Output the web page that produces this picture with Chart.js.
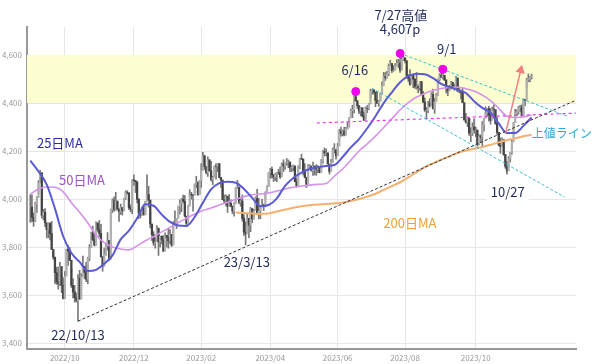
<!DOCTYPE html>
<html>
<head>
<meta charset="utf-8">
<script src="https://cdn.jsdelivr.net/npm/chart.js@4.4.0/dist/chart.umd.min.js"></script>
<style>
html,body{margin:0;padding:0;background:#fff;}
#wrap{width:600px;height:364px;}
</style>
</head>
<body>
<div id="wrap"><canvas id="myChart" width="600" height="364"></canvas></div>
<script>
// trading day index 0 = 2022/09/01
var closes = [
 // 2022/09
 3967,3924,3909,3980,4006,4067,4110,3932,3946,3901,3873,3900,3856,3790,3758,3693,3655,3647,3719,3640,3586,
 // 2022/10
 3678,3791,3783,3745,3640,3613,3589,3577,3670,3583,3677,3720,3695,3666,3753,3797,3859,3831,3808,3901,3872,
 // 2022/11
 3856,3760,3720,3771,3807,3828,3749,3956,3993,3957,3992,3959,3947,3965,3950,4003,4027,4026,3964,3958,4080,
 // 2022/12
 4077,4072,3999,3941,3933,3964,3934,3991,4019,3996,3896,3852,3817,3821,3879,3822,3845,3829,3783,3849,3840,
 // 2023/01
 3825,3853,3808,3895,3893,3919,3970,3983,3999,3991,3929,3898,3973,4020,4017,4016,4060,4071,4018,4077,
 // 2023/02
 4119,4180,4136,4111,4164,4118,4082,4090,4137,4136,4148,4090,4079,3998,3991,4012,3970,3982,3970,
 // 2023/03
 3951,3981,4046,4048,3986,3992,3919,3862,3855,3920,3892,3960,3917,3951,4002,3937,3949,3971,3977,3971,4027,4051,4109,
 // 2023/04
 4124,4101,4091,4105,4110,4109,4092,4146,4138,4152,4154,4155,4130,4133,4138,4072,4056,4135,4169,
 // 2023/05
 4167,4119,4091,4061,4136,4138,4119,4138,4131,4124,4136,4110,4159,4198,4192,4193,4146,4115,4151,4205,4206,4180,
 // 2023/06
 4221,4282,4273,4283,4268,4293,4299,4338,4369,4373,4426,4410,4389,4366,4381,4348,4328,4378,4377,4396,4450,
 // 2023/07
 4456,4447,4411,4399,4409,4439,4472,4510,4505,4522,4555,4565,4535,4536,4555,4567,4567,4537,4582,4589,
 // 2023/08
 4577,4513,4502,4478,4518,4499,4468,4469,4464,4490,4437,4404,4370,4370,4400,4388,4436,4376,4406,4433,4497,4515,4508,
 // 2023/09
 4516,4497,4465,4451,4457,4487,4462,4467,4505,4450,4453,4444,4402,4330,4320,4337,4274,4274,4300,4288,
 // 2023/10
 4288,4229,4263,4258,4308,4336,4358,4377,4350,4328,4374,4373,4315,4278,4224,4218,4248,4186,4137,4117,4167,4194,
 // 2023/11
 4238,4318,4358,4365,4379,4383,4347,4415,4411,4496,4502,4508,4514
];
var highs = [
 4018,4018,3942,3987,4010,4077,4120,4062,3957,3960,3880,3901,3880,3907,3780,3727,3716,3717,3736,3687,3672,
 3698,3791,3807,3798,3711,3667,3640,3608,3685,3703,3689,3762,3719,3737,3757,3810,3862,3887,3860,3905,3893,
 3911,3895,3750,3796,3814,3860,3813,3958,4001,4009,4028,3983,3954,3979,3962,4004,4034,4035,4012,3976,4080,
 4101,4077,4052,4002,3951,3966,3977,3991,4101,4053,3946,3874,3864,3839,3889,3872,3846,3846,3848,3859,3840,
 3878,3873,3839,3906,3951,3919,3970,3997,4003,4016,4015,3922,3973,4039,4028,4019,4063,4095,4063,4077,
 4148,4195,4183,4124,4176,4158,4157,4095,4138,4148,4148,4136,4082,4051,4017,4018,3979,4019,3997,
 3971,3985,4048,4078,4051,4000,4017,3934,3905,3937,3894,3965,3958,3957,4009,4040,4003,3973,3999,3979,4030,4055,4110,
 4128,4133,4103,4108,4110,4124,4134,4151,4164,4152,4169,4163,4148,4139,4142,4127,4088,4139,4170,
 4187,4164,4148,4083,4144,4143,4131,4154,4133,4143,4139,4135,4165,4203,4213,4209,4186,4131,4166,4213,4231,4195,
 4232,4290,4300,4288,4299,4299,4322,4340,4375,4391,4431,4448,4401,4388,4382,4366,4362,4384,4390,4398,4458,
 4456,4454,4423,4449,4412,4442,4489,4528,4527,4532,4563,4578,4565,4556,4565,4580,4582,4607,4590,4595,
 4584,4550,4519,4540,4519,4504,4502,4527,4476,4490,4476,4449,4421,4382,4407,4418,4443,4458,4418,4440,4501,4522,4532,
 4541,4514,4490,4458,4474,4491,4479,4479,4511,4498,4466,4449,4462,4375,4357,4339,4314,4297,4318,4334,
 4300,4282,4268,4268,4324,4337,4385,4378,4386,4377,4383,4393,4367,4340,4276,4255,4255,4231,4183,4157,4177,4195,
 4245,4319,4374,4372,4386,4391,4393,4418,4414,4503,4521,4511,4521
];
var lows = [
 3903,3906,3886,3906,3944,4023,4084,3921,3913,3885,3838,3838,3830,3789,3749,3647,3644,3624,3640,3610,3584,
 3585,3722,3723,3744,3631,3588,3570,3571,3491,3582,3638,3687,3667,3656,3647,3743,3800,3825,3804,3808,3863,
 3843,3758,3699,3721,3766,3786,3745,3859,3944,3949,3953,3954,3907,3936,3933,3956,3998,4020,3956,3946,3938,
 4057,4027,3984,3918,3922,3933,3933,3936,3993,3966,3880,3827,3807,3795,3828,3765,3800,3813,3781,3801,3800,
 3795,3815,3802,3809,3890,3877,3925,3937,3947,3984,3926,3885,3907,3971,3999,3949,4017,4048,4015,4021,
 4049,4137,4123,4105,4094,4115,4074,4060,4092,4083,4114,4089,4048,3997,3982,3971,3944,3977,3968,
 3939,3929,3991,4044,3980,3970,3908,3847,3809,3873,3839,3864,3901,3916,3971,3936,3917,3918,3969,3952,3999,4032,4057,
 4087,4087,4073,4077,4072,4102,4086,4100,4114,4123,4140,4130,4114,4114,4118,4072,4049,4080,4127,
 4164,4101,4088,4048,4099,4123,4116,4098,4100,4099,4110,4109,4113,4150,4180,4180,4146,4104,4117,4154,4192,4166,
 4181,4241,4262,4263,4263,4266,4292,4305,4349,4339,4359,4407,4377,4356,4346,4341,4328,4336,4360,4372,4422,
 4437,4437,4385,4399,4386,4408,4464,4485,4494,4504,4514,4558,4527,4532,4546,4555,4547,4528,4556,4577,
 4567,4505,4490,4474,4492,4464,4461,4458,4443,4453,4432,4403,4365,4335,4360,4383,4402,4376,4357,4416,4432,4493,4507,
 4501,4493,4442,4431,4452,4467,4461,4453,4479,4447,4442,4417,4402,4329,4316,4302,4265,4239,4265,4275,
 4260,4220,4226,4236,4219,4283,4339,4345,4325,4312,4342,4337,4311,4269,4223,4190,4220,4182,4128,4104,4132,4154,
 4187,4269,4334,4347,4353,4365,4344,4353,4389,4465,4489,4488,4500
];

// moving averages, every 5 trading days
var maDays = [0,5,10,15,20,25,30,35,40,45,50,55,60,65,70,75,80,85,90,95,100,105,110,115,120,125,130,135,140,145,150,155,160,165,170,175,180,185,190,195,200,205,210,215,220,225,230,235,240,245,250,255,260,265,270,275,280,285,290,295,300,305];
var ma25 = [4160,4115,4060,3960,3845,3775,3738,3700,3705,3730,3765,3832,3868,3920,3978,3972,3935,3905,3890,3888,3925,3985,4040,4066,4072,4068,4042,4005,3970,3975,4003,4055,4088,4110,4125,4133,4138,4142,4175,4215,4250,4295,4345,4400,4445,4487,4512,4522,4520,4504,4480,4467,4455,4442,4408,4380,4360,4315,4275,4275,4305,4340];
var ma50 = [4020,4042,4050,4049,4030,3985,3945,3900,3850,3818,3800,3792,3788,3805,3826,3843,3863,3882,3902,3920,3938,3952,3963,3975,3987,3998,4010,4018,4021,4025,4033,4042,4049,4054,4058,4061,4065,4095,4125,4162,4200,4230,4262,4298,4335,4372,4402,4425,4440,4452,4461,4465,4466,4460,4450,4433,4410,4378,4345,4340,4342,4350];
var ma200 = [null,null,null,null,null,null,null,null,null,null,null,null,null,null,null,null,null,null,null,null,null,null,null,null,null,
 3944,3942,3940,3938,3940,3948,3956,3964,3970,3974,3977,3979,3982,3986,3992,4000,4010,4022,4038,4054,4070,4090,4112,4133,4149,4164,4178,4192,4202,4210,4217,4226,4236,4245,4253,4262,4268];

// trend lines (trading day, price)
var supportLine = [[29,3491],[332,4412]];
var upperChannel = [[225,4607],[326.4,4346]];
var lowerChannel = [[207.8,4462],[325.1,4008]];
var resistLine = [[174.3,4317],[332,4358]];
var arrowLine = [[289.2,4275],[298.4,4537]];

var peakDays = [198,225,251];
var peakValues = [4448,4607,4541];

var tickDays = [21,63,104,146,187,228,271];
var tickLabels = ['2022/10','2022/12','2023/02','2023/04','2023/06','2023/08','2023/10'];
var yTicks = [3400,3600,3800,4000,4200,4400,4600];

var notes = [
    {text:'7/27高値', x:225.4, y:4767, color:'#1f2a5a'},
    {text:'4,607p', x:225, y:4708, color:'#1f2a5a'},
    {text:'6/16', x:197.4, y:4537, color:'#1f2a5a'},
    {text:'9/1', x:253.4, y:4625, color:'#1f2a5a'},
    {text:'25日MA', x:18, y:4233, color:'#2a2aa8'},
    {text:'50日MA', x:31.4, y:4079, color:'#a050c8'},
    {text:'200日MA', x:230.9, y:3900, color:'#f0a030'},
    {text:'上値ライン', x:323.3, y:4275, color:'#30a8d8', size:12},
    {text:'10/27', x:290.5, y:4029, color:'#1f2a5a', bg:true},
    {text:'22/10/13', x:29, y:3433, color:'#1f2a5a'},
    {text:'23/3/13', x:131.7, y:3737, color:'#1f2a5a'}
];

function pts(arr) {
    return arr.map(function(p){ return {x:p[0], y:p[1]}; });
}
function maPts(vals) {
    return maDays.map(function(d,i){ return {x:d, y:vals[i]}; });
}

var wickData = closes.map(function(c,i){ return {x:i, y:[lows[i], highs[i]]}; });
var bodyData = closes.map(function(c,i){ return {x:i, y:[i ? closes[i-1] : c, c]}; });

var notePlugin = {
    id: 'notes',
    afterDatasetsDraw: function(chart) {
        var ctx = chart.ctx, xs = chart.scales.x, ys = chart.scales.y;
        ctx.save();
        ctx.textAlign = 'center';
        ctx.textBaseline = 'middle';
        for (var n of notes) {
            ctx.font = (n.size || 13) + 'px "Noto Sans CJK JP"';
            var px = xs.getPixelForValue(n.x), py = ys.getPixelForValue(n.y);
            if (n.bg) {
                var w = ctx.measureText(n.text).width;
                ctx.fillStyle = '#fff';
                ctx.fillRect(px - w/2 - 4, py - 9, w + 8, 18);
            }
            ctx.fillStyle = n.color;
            ctx.fillText(n.text, px, py);
        }
        ctx.restore();
    }
};

Chart.defaults.font.family = '"Noto Sans CJK JP", "Noto Sans", sans-serif';

var myChart = new Chart(document.getElementById('myChart'), {
    type: 'bar',
    data: {
        datasets: [
            {
                type: 'line',
                data: [{x:-2, y:4600}, {x:332, y:4600}],
                borderWidth: 0,
                pointRadius: 0,
                backgroundColor: '#fdfdd2',
                fill: {value: 4400},
                order: 100
            },
            {
                type: 'bar',
                data: wickData,
                backgroundColor: '#777',
                barThickness: 1,
                grouped: false,
                order: 20
            },
            {
                type: 'bar',
                data: bodyData,
                backgroundColor: function(c) {
                    var d = c.raw;
                    return d && d.y[1] >= d.y[0] ? '#b0b0b0' : '#444';
                },
                barThickness: 1.6,
                grouped: false,
                order: 19
            },
            {
                type: 'line', data: maPts(ma200), borderColor: '#f4b070', borderWidth: 2,
                pointRadius: 0, cubicInterpolationMode: 'monotone', order: 9
            },
            {
                type: 'line', data: maPts(ma50), borderColor: '#d592ea', borderWidth: 1.6,
                pointRadius: 0, cubicInterpolationMode: 'monotone', order: 8
            },
            {
                type: 'line', data: maPts(ma25), borderColor: '#5a5ad6', borderWidth: 2,
                pointRadius: 0, cubicInterpolationMode: 'monotone', order: 7
            },
            {
                type: 'line', data: pts(supportLine), borderColor: '#333', borderWidth: 1,
                borderDash: [3,2], pointRadius: 0, order: 5
            },
            {
                type: 'line', data: pts(upperChannel), borderColor: '#3cc0d0', borderWidth: 1,
                borderDash: [3,2], pointRadius: 0, order: 5
            },
            {
                type: 'line', data: pts(lowerChannel), borderColor: '#3cc0d0', borderWidth: 1,
                borderDash: [3,2], pointRadius: 0, order: 5
            },
            {
                type: 'line', data: pts(resistLine), borderColor: '#e040e0', borderWidth: 1.2,
                borderDash: [3,3], pointRadius: 0, order: 5
            },
            {
                type: 'line', data: pts(arrowLine), borderColor: '#f08080', borderWidth: 1.5,
                pointStyle: 'triangle', pointRadius: [0,4], pointRotation: [0,13],
                pointBackgroundColor: '#f08080', pointBorderColor: '#f08080', order: 4
            },
            {
                type: 'line',
                data: peakDays.map(function(d,i){ return {x:d, y:peakValues[i]}; }),
                showLine: false, pointRadius: 4, pointBackgroundColor: '#ee00ee',
                pointBorderColor: '#ee00ee', order: 1, clip: false
            }
        ]
    },
    options: {
        responsive: false,
        animation: false,
        events: [],
        layout: { padding: { top: 27, right: 24, left: 0, bottom: 0 } },
        plugins: { legend: { display: false }, tooltip: { enabled: false } },
        scales: {
            x: {
                type: 'linear',
                min: -2,
                max: 332,
                offset: false,
                afterBuildTicks: function(s) { s.ticks = tickDays.map(function(v){ return {value: v}; }); },
                afterFit: function(s) { s.height = 15; },
                grid: { offset: false, color: '#e6e6e6', drawTicks: false },
                border: { color: '#999', width: 2 },
                ticks: {
                    padding: 4,
                    color: '#999',
                    font: { size: 8 },
                    maxRotation: 0,
                    callback: function(v) { var k = tickDays.indexOf(v); return k < 0 ? '' : tickLabels[k]; }
                }
            },
            y: {
                min: 3375,
                max: 4717,
                afterBuildTicks: function(s) { s.ticks = yTicks.map(function(v){ return {value: v}; }); },
                afterFit: function(s) { s.width = 27; },
                grid: { color: '#e6e6e6', drawTicks: false },
                border: { color: '#999', width: 2 },
                ticks: {
                    padding: 5,
                    color: '#999',
                    font: { size: 8 },
                    callback: function(v) { return v.toLocaleString('en-US'); }
                }
            }
        }
    },
    plugins: [notePlugin]
});
</script>
</body>
</html>
